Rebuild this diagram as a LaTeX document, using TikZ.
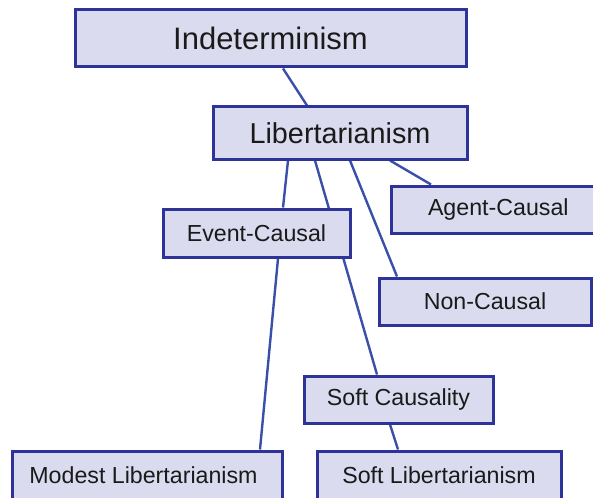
\documentclass[tikz,border=0pt]{standalone}
\usepackage{fontspec}
\setmainfont{Liberation Sans}
\usetikzlibrary{backgrounds}
\definecolor{boxfill}{HTML}{DBDBEF}
\definecolor{boxline}{HTML}{2E3399}
\definecolor{conline}{HTML}{3A50A8}
\definecolor{txt}{HTML}{1A1A1A}
\tikzset{
  box/.style={draw=boxline, fill=boxfill, line width=3pt, inner sep=0pt, text=txt},
  smallbox/.style={box, font=\fontsize{23.2}{26}\selectfont},
  conn/.style={draw=conline, line width=2.4pt}
}
\begin{document}
\begin{tikzpicture}[x=1pt,y=-1pt]
\useasboundingbox (0,0) rectangle (593,497);
\clip (0,0) rectangle (593,497);
\node[box, minimum width=391pt, minimum height=57pt, font=\fontsize{31}{34}\selectfont] (ind) at (270.5,38.5) {Indeterminism};
\node[box, minimum width=254pt, minimum height=52pt, font=\fontsize{28.8}{32}\selectfont] (lib) at (340,133) {Libertarianism};
\node[smallbox, minimum width=187pt, minimum height=48pt] (ev) at (256.5,233) {Event-Causal};
\node[smallbox, minimum width=216pt, minimum height=47pt, text width=216pt, align=left] (ag) at (499,209.5) {\hspace*{37pt}Agent-Causal};
\node[smallbox, minimum width=212pt, minimum height=47pt] (nc) at (485,301.5) {Non-Causal};
\node[smallbox, minimum width=189pt, minimum height=47pt] (sc) at (398.5,399.5) {Soft Causality};
\node[smallbox, minimum width=270pt, minimum height=48pt] (ml) at (147,475) {\hspace*{-7pt}Modest Libertarianism};
\node[smallbox, minimum width=244pt, minimum height=48pt] (sl) at (439,475) {Soft Libertarianism};
\begin{pgfonlayer}{background}
\fill[white] (0,0) rectangle (593,497);
\draw[conn] ([xshift=12.5pt]ind.south) -- ([xshift=-33pt]lib.north);
\draw[conn] ([xshift=-52pt]lib.south) -- ([xshift=26.5pt]ev.north);
\draw[conn] ([xshift=-25pt]lib.south) -- ([xshift=-21.5pt]sc.north);
\draw[conn] ([xshift=10pt]lib.south) -- ([xshift=-88pt]nc.north);
\draw[conn] ([xshift=50pt]lib.south) -- ([xshift=-68pt]ag.north);
\draw[conn] ([xshift=21.5pt]ev.south) -- ([xshift=113pt]ml.north);
\draw[conn] ([xshift=-8.5pt]sc.south) -- ([xshift=-41pt]sl.north);
\end{pgfonlayer}
\end{tikzpicture}
\end{document}
